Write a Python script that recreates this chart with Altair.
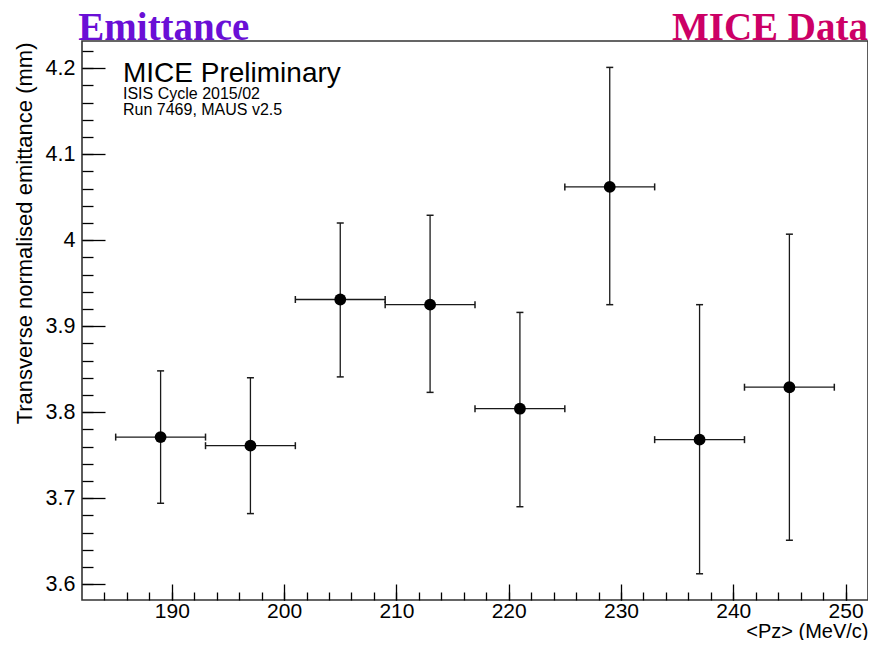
import altair as alt
import pandas as pd

# ---- data ----
pz = [189, 197, 205, 213, 221, 229, 237, 245]
pz_err = [4, 4, 4, 4, 4, 4, 4, 4]
emit = [3.771, 3.761, 3.931, 3.925, 3.804, 4.062, 3.768, 3.829]
emit_lo = [3.694, 3.682, 3.841, 3.823, 3.690, 3.925, 3.612, 3.651]
emit_hi = [3.848, 3.840, 4.020, 4.029, 3.916, 4.201, 3.925, 4.007]

x_major = [190, 200, 210, 220, 230, 240, 250]
x_minor = [184, 186, 188, 190, 192, 194, 196, 198, 200, 202, 204, 206, 208,
           210, 212, 214, 216, 218, 220, 222, 224, 226, 228, 230, 232, 234,
           236, 238, 240, 242, 244, 246, 248, 250]
y_major = [3.6, 3.7, 3.8, 3.9, 4.0, 4.1, 4.2]
y_minor = [3.60, 3.62, 3.64, 3.66, 3.68, 3.70, 3.72, 3.74, 3.76, 3.78, 3.80,
           3.82, 3.84, 3.86, 3.88, 3.90, 3.92, 3.94, 3.96, 3.98, 4.00, 4.02,
           4.04, 4.06, 4.08, 4.10, 4.12, 4.14, 4.16, 4.18, 4.20, 4.22]

x_domain = [182, 252]
y_domain = [3.5815, 4.2317]

x_title = "<Pz> (MeV/c)"
y_title = "Transverse normalised emittance (mm)"
title_left = "Emittance"
title_right = "MICE Data"
label_lines = ["MICE Preliminary", "ISIS Cycle 2015/02", "Run 7469, MAUS v2.5"]

# ---- tables ----
df = pd.DataFrame({
    "pz": pz,
    "emit": emit,
    "lo": emit_lo,
    "hi": emit_hi,
    "xlo": [p - e for p, e in zip(pz, pz_err)],
    "xhi": [p + e for p, e in zip(pz, pz_err)],
})
caps_h = pd.DataFrame({
    "x": list(df["xlo"]) + list(df["xhi"]),
    "y": emit + emit,
})
caps_v = pd.DataFrame({
    "x": pz + pz,
    "y": emit_lo + emit_hi,
})

FONT = "Liberation Sans"
INK = "#1a1a1a"
W, H = 786, 559

xs = alt.Scale(domain=x_domain, nice=False, zero=False)
ys = alt.Scale(domain=y_domain, nice=False, zero=False)

x_axis_major = alt.Axis(
    orient="bottom", values=x_major, tickSize=16, offset=-16, domain=False,
    grid=False, tickColor="black", tickWidth=1.3, labelFont=FONT,
    labelFontSize=21, labelColor="black", labelPadding=0, format="d",
    title=x_title, titleFont=FONT, titleFontSize=20, titleFontWeight="normal",
    titleColor="black", titleX=W, titleY=53, titleAlign="right",
    titleBaseline="alphabetic", labelFlush=False,
)
y_axis_major = alt.Axis(
    orient="left", values=y_major, tickSize=23, offset=-23, domain=False,
    grid=False, tickColor="black", tickWidth=1.3, labelFont=FONT,
    labelFontSize=21.5, labelColor="black", labelPadding=7, format="~g",
    title=y_title, titleFont=FONT, titleFontSize=22, titleFontWeight="normal",
    titleColor="black", titleAngle=270, titleX=-73.5, titleY=1,
    titleAlign="right", titleBaseline="alphabetic", labelFlush=False,
)
x_axis_minor = alt.Axis(
    orient="bottom", values=x_minor, tickSize=8, offset=-8, domain=False,
    grid=False, labels=False, title=None, tickColor="black", tickWidth=1.3,
)
y_axis_minor = alt.Axis(
    orient="left", values=y_minor, tickSize=11, offset=-11, domain=False,
    grid=False, labels=False, title=None, tickColor="black", tickWidth=1.3,
)

base = alt.Chart(df)

# vertical error bars (carry major axes)
vbars = base.mark_rule(color=INK, strokeWidth=1.3).encode(
    x=alt.X("pz:Q", scale=xs, axis=x_axis_major),
    y=alt.Y("lo:Q", scale=ys, axis=y_axis_major),
    y2="hi:Q",
)

# invisible layer carrying minor ticks
minor = base.mark_point(opacity=0).encode(
    x=alt.X("pz:Q", scale=xs, axis=x_axis_minor),
    y=alt.Y("emit:Q", scale=ys, axis=y_axis_minor),
)

hbars = base.mark_rule(color=INK, strokeWidth=1.3).encode(
    x=alt.X("xlo:Q", scale=xs, axis=None),
    x2="xhi:Q",
    y=alt.Y("emit:Q", scale=ys, axis=None),
)

hcaps = alt.Chart(caps_h).mark_tick(
    orient="vertical", size=7, thickness=1.5, color=INK, opacity=1
).encode(
    x=alt.X("x:Q", scale=xs, axis=None),
    y=alt.Y("y:Q", scale=ys, axis=None),
)

vcaps = alt.Chart(caps_v).mark_tick(
    orient="horizontal", size=7, thickness=1.5, color=INK, opacity=1
).encode(
    x=alt.X("x:Q", scale=xs, axis=None),
    y=alt.Y("y:Q", scale=ys, axis=None),
)

points = base.mark_circle(size=140, color="black", opacity=1).encode(
    x=alt.X("pz:Q", scale=xs, axis=None),
    y=alt.Y("emit:Q", scale=ys, axis=None),
)


def text_layer(txt, x, y, size, font, color="black", weight="normal", align="left"):
    return alt.Chart(pd.DataFrame({"t": [txt]})).mark_text(
        font=font, fontSize=size, fontWeight=weight, color=color,
        align=align, baseline="alphabetic",
    ).encode(text="t:N", x=alt.value(x), y=alt.value(y))


t_left = text_layer(title_left, -3.7, -1.5, 39, "Liberation Serif", "#6a0fd6", "bold")
t_right = text_layer(title_right, W, -1.5, 39, "Liberation Serif", "#cc0066", "bold", "right")
t1 = text_layer(label_lines[0], 41, 41, 28, FONT)
t2 = text_layer(label_lines[1], 41, 58, 16, FONT)
t3 = text_layer(label_lines[2], 41, 74, 16, FONT)

chart = alt.layer(
    vbars, minor, hbars, hcaps, vcaps, points, t_left, t_right, t1, t2, t3
).resolve_axis(
    x="independent", y="independent"
).properties(
    width=W, height=H,
    padding={"left": 74, "top": 33, "right": 0, "bottom": 40},
    autosize=alt.AutoSizeParams(type="none"),
    background="white",
).configure_view(
    stroke="#333333", strokeWidth=1.6,
)

chart.save("out.html", embed_options={"renderer": "svg", "actions": False})
